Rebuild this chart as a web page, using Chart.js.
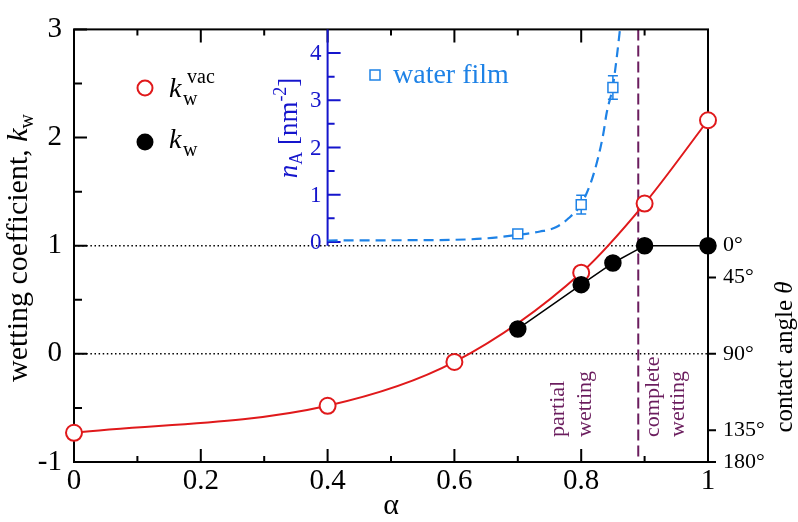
<!DOCTYPE html>
<html>
<head>
<meta charset="utf-8">
<script src="https://cdn.jsdelivr.net/npm/chart.js@4.4.0/dist/chart.umd.min.js"></script>
<style>
  html, body { margin: 0; padding: 0; background: #fff; }
</style>
</head>
<body>
<canvas id="wetChart" width="798" height="522"></canvas>
<script>
// wetting coefficient in vacuum, k_w^vac
const alphaVac = [0, 0.4, 0.6, 0.8, 0.9, 1.0];
const kVac = [-0.73, -0.48, -0.075, 0.75, 1.39, 2.16];

// wetting coefficient k_w
const alphaKw = [0.7, 0.8, 0.85, 0.9, 1.0];
const kW = [0.23, 0.64, 0.84, 1.0, 1.0];

// inset: water film density n_A [nm^-2]
const alphaFilm = [0.7, 0.8, 0.85];
const nFilm = [0.17, 0.79, 3.27];
const nFilmErr = [0, 0.2, 0.25];

// dashed guide curve of the inset
const alphaGuide = [0.4, 0.5, 0.6, 0.65, 0.7, 0.735, 0.76, 0.78, 0.8, 0.815, 0.827, 0.835, 0.84, 0.85, 0.856, 0.862];
const nGuide = [0.03, 0.035, 0.045, 0.075, 0.15, 0.22, 0.31, 0.5, 0.8, 1.25, 1.8, 2.3, 2.72, 3.3, 3.9, 4.6];

const xTicks = [0, 0.2, 0.4, 0.6, 0.8, 1];
const yTicks = [-1, 0, 1, 2, 3];
const angleTicks = [0, 45, 90, 135, 180];
const nTicks = [0, 1, 2, 3, 4];
const wettingBoundary = 0.89;

const SERIF = '"Liberation Serif", "Times New Roman", serif';
const RED = '#e0191b';
const PURPLE = '#6b1d5e';
const FILM = '#1e82e6';
const INSET = '#1515cc';

// inset occupies k = 1..3 of the main axis, alpha = 0.4..1
const insetMin = -0.08, insetMax = 4.5, insetLeft = 0.4, insetBottomK = 1;
const ynMin = insetMax - (insetMax - insetMin) * (3 - (-1)) / (3 - insetBottomK);

const pts = (xs, ys) => xs.map((x, i) => ({ x: x, y: ys[i] }));

function runFont(r) {
  return (r.italic ? 'italic ' : '') + r.size + 'px ' + SERIF;
}

// draw text runs rotated by -90deg, centred on yCenter, baseline at x
function rotatedRuns(ctx, runs, x, yCenter, color) {
  let total = 0;
  runs.forEach(r => { ctx.font = runFont(r); r.w = ctx.measureText(r.text).width; total += r.w; });
  ctx.save();
  ctx.translate(x, yCenter);
  ctx.rotate(-Math.PI / 2);
  ctx.fillStyle = color;
  ctx.textBaseline = 'alphabetic';
  ctx.textAlign = 'left';
  let cx = -total / 2;
  runs.forEach(r => { ctx.font = runFont(r); ctx.fillText(r.text, cx, r.shift || 0); cx += r.w; });
  ctx.restore();
}

function rotatedText(ctx, text, x, y, size, color) {
  ctx.save();
  ctx.translate(x, y);
  ctx.rotate(-Math.PI / 2);
  ctx.fillStyle = color;
  ctx.font = size + 'px ' + SERIF;
  ctx.textBaseline = 'alphabetic';
  ctx.textAlign = 'left';
  ctx.fillText(text, 0, 0);
  ctx.restore();
}

const decor = {
  id: 'decor',
  beforeDatasetsDraw(chart) {
    const ctx = chart.ctx, a = chart.chartArea;
    const xs = chart.scales.x, ys = chart.scales.y, yn = chart.scales.yn;
    ctx.save();

    // dotted reference lines at k = 0 and k = 1
    ctx.strokeStyle = '#000';
    ctx.lineWidth = 1.5;
    ctx.setLineDash([1.5, 2.6]);
    ctx.beginPath();
    ctx.moveTo(a.left, ys.getPixelForValue(0));
    ctx.lineTo(a.right, ys.getPixelForValue(0));
    ctx.moveTo(a.left, ys.getPixelForValue(1));
    ctx.lineTo(xs.getPixelForValue(0.9), ys.getPixelForValue(1));
    ctx.stroke();

    // partial / complete wetting boundary
    const bx = xs.getPixelForValue(wettingBoundary);
    ctx.strokeStyle = PURPLE;
    ctx.lineWidth = 2;
    ctx.setLineDash([11, 5]);
    ctx.beginPath();
    ctx.moveTo(bx, a.top);
    ctx.lineTo(bx, a.bottom);
    ctx.stroke();
    ctx.setLineDash([]);

    // frame
    ctx.strokeStyle = '#000';
    ctx.lineWidth = 2;
    ctx.strokeRect(a.left, a.top, a.right - a.left, a.bottom - a.top);

    // x ticks (bottom and top, inward)
    ctx.beginPath();
    for (let i = 0; i <= 10; i++) {
      const p = xs.getPixelForValue(i / 10);
      const len = i % 2 === 0 ? 13 : 6;
      ctx.moveTo(p, a.bottom); ctx.lineTo(p, a.bottom - len);
      ctx.moveTo(p, a.top); ctx.lineTo(p, a.top + len);
    }
    // y ticks (left, inward)
    for (let i = 0; i <= 8; i++) {
      const v = -1 + i / 2;
      const p = ys.getPixelForValue(v);
      const len = i % 2 === 0 ? 13 : 8;
      ctx.moveTo(a.left, p); ctx.lineTo(a.left + len, p);
    }
    // contact angle ticks (right, outward)
    angleTicks.forEach(d => {
      const p = ys.getPixelForValue(Math.cos(d * Math.PI / 180));
      ctx.moveTo(a.right, p); ctx.lineTo(a.right + 8, p);
    });
    ctx.stroke();

    // inset axis
    const ix = xs.getPixelForValue(insetLeft);
    ctx.strokeStyle = INSET;
    ctx.lineWidth = 2;
    ctx.beginPath();
    ctx.moveTo(ix, yn.getPixelForValue(insetMin));
    ctx.lineTo(ix, a.top);
    for (let i = 0; i <= 8; i++) {
      const p = yn.getPixelForValue(i / 2);
      const len = i % 2 === 0 ? 13 : 7;
      ctx.moveTo(ix, p); ctx.lineTo(ix + len, p);
    }
    ctx.stroke();
    ctx.fillStyle = INSET;
    ctx.font = '23px ' + SERIF;
    ctx.textAlign = 'right';
    ctx.textBaseline = 'middle';
    nTicks.forEach(v => ctx.fillText(String(v), ix - 6, yn.getPixelForValue(v) + 1));

    // error bars of the film data
    ctx.strokeStyle = FILM;
    ctx.lineWidth = 1.5;
    ctx.beginPath();
    alphaFilm.forEach((al, i) => {
      if (!nFilmErr[i]) return;
      const x = xs.getPixelForValue(al);
      const y1 = yn.getPixelForValue(nFilm[i] - nFilmErr[i]);
      const y2 = yn.getPixelForValue(nFilm[i] + nFilmErr[i]);
      ctx.moveTo(x, y1); ctx.lineTo(x, y2);
      ctx.moveTo(x - 5, y1); ctx.lineTo(x + 5, y1);
      ctx.moveTo(x - 5, y2); ctx.lineTo(x + 5, y2);
    });
    ctx.stroke();
    ctx.restore();
  },
  afterDraw(chart) {
    const ctx = chart.ctx, a = chart.chartArea;
    const xs = chart.scales.x;
    ctx.save();

    // axis titles
    rotatedRuns(ctx, [
      { text: 'wetting coefficient, ', size: 30 },
      { text: 'k', size: 30, italic: true },
      { text: 'w', size: 20, shift: 6 }
    ], 27, 248, '#000');
    rotatedRuns(ctx, [
      { text: 'contact angle ', size: 25 },
      { text: '\u03B8', size: 25, italic: true }
    ], 792, 357, '#000');
    rotatedRuns(ctx, [
      { text: 'n', size: 27, italic: true },
      { text: 'A', size: 18, shift: 5 },
      { text: ' [nm', size: 27 },
      { text: '-2', size: 18, shift: -11 },
      { text: ']', size: 27 }
    ], 297, 128, INSET);

    ctx.fillStyle = '#000';
    ctx.font = '30px ' + SERIF;
    ctx.textAlign = 'center';
    ctx.textBaseline = 'alphabetic';
    ctx.fillText('\u03B1', (a.left + a.right) / 2, 514);

    // legend of the main plot
    ctx.lineWidth = 2;
    ctx.strokeStyle = RED;
    ctx.fillStyle = '#fff';
    ctx.beginPath(); ctx.arc(145, 88, 7.5, 0, Math.PI * 2); ctx.fill(); ctx.stroke();
    ctx.fillStyle = '#000';
    ctx.beginPath(); ctx.arc(145, 142, 8.5, 0, Math.PI * 2); ctx.fill();
    ctx.textAlign = 'left';
    ctx.font = 'italic 28px ' + SERIF;
    ctx.fillText('k', 169, 97);
    ctx.fillText('k', 169, 148);
    ctx.font = '20px ' + SERIF;
    ctx.fillText('w', 183, 105);
    ctx.fillText('vac', 187, 83);
    ctx.fillText('w', 183, 156);

    // legend of the inset
    ctx.strokeStyle = FILM;
    ctx.lineWidth = 1.5;
    ctx.strokeRect(370, 70, 10, 10);
    ctx.fillStyle = FILM;
    ctx.font = '28px ' + SERIF;
    ctx.fillText('water film', 393, 83);

    // regime labels
    const bx = xs.getPixelForValue(wettingBoundary);
    const by = a.bottom - 25;
    rotatedText(ctx, 'partial', bx - 74, by, 22, PURPLE);
    rotatedText(ctx, 'wetting', bx - 47, by, 22, PURPLE);
    rotatedText(ctx, 'complete', bx + 21, by, 22, PURPLE);
    rotatedText(ctx, 'wetting', bx + 46, by, 22, PURPLE);
    ctx.restore();
  }
};

const tickFont = { family: SERIF, size: 29 };

new Chart(document.getElementById('wetChart'), {
  type: 'line',
  data: {
    datasets: [
      {
        label: 'k_w',
        data: pts(alphaKw, kW),
        borderColor: '#000',
        borderWidth: 1.5,
        tension: 0,
        pointRadius: 8,
        pointBackgroundColor: '#000',
        pointBorderColor: '#000',
        clip: false,
        order: 0
      },
      {
        label: 'k_w^vac',
        data: pts(alphaVac, kVac),
        borderColor: RED,
        borderWidth: 2,
        cubicInterpolationMode: 'monotone',
        pointRadius: 8,
        pointBorderWidth: 2,
        pointBackgroundColor: '#fff',
        pointBorderColor: RED,
        clip: false,
        order: 1
      },
      {
        label: 'water film',
        data: pts(alphaFilm, nFilm),
        yAxisID: 'yn',
        showLine: false,
        pointStyle: 'rect',
        pointRadius: 7,
        pointBorderWidth: 1.5,
        pointBackgroundColor: '#fff',
        pointBorderColor: FILM,
        clip: false,
        order: 2
      },
      {
        label: 'guide',
        data: pts(alphaGuide, nGuide),
        yAxisID: 'yn',
        borderColor: FILM,
        borderWidth: 2.2,
        borderDash: [10, 6],
        cubicInterpolationMode: 'monotone',
        pointRadius: 0,
        order: 3
      }
    ]
  },
  options: {
    responsive: false,
    devicePixelRatio: 1,
    animation: false,
    events: [],
    layout: { padding: { top: 18, left: 0, right: 0, bottom: 0 } },
    plugins: { legend: { display: false }, tooltip: { enabled: false } },
    scales: {
      x: {
        type: 'linear', min: 0, max: 1,
        grid: { display: false, drawTicks: false },
        border: { display: false },
        afterBuildTicks: s => { s.ticks = xTicks.map(v => ({ value: v })); },
        afterFit: s => { s.height = 60; },
        ticks: { font: tickFont, color: '#000', padding: 2, autoSkip: false, maxRotation: 0,
          callback: v => String(v) }
      },
      y: {
        type: 'linear', position: 'left', min: -1, max: 3,
        grid: { display: false, drawTicks: false },
        border: { display: false },
        afterBuildTicks: s => { s.ticks = yTicks.map(v => ({ value: v })); },
        afterFit: s => { s.width = 74; },
        ticks: { font: tickFont, color: '#000', padding: 12, autoSkip: false,
          callback: v => String(v) }
      },
      yAngle: {
        type: 'linear', position: 'right', min: -1, max: 3,
        grid: { display: false, drawTicks: false },
        border: { display: false },
        afterBuildTicks: s => { s.ticks = angleTicks.map(d => ({ value: Math.cos(d * Math.PI / 180) })); },
        afterFit: s => { s.width = 90; },
        ticks: { font: { family: SERIF, size: 22 }, color: '#000', padding: 15, autoSkip: false,
          callback: (v, i) => angleTicks[i] + '\u00B0' }
      },
      yn: {
        type: 'linear', position: 'left', display: false,
        min: ynMin, max: insetMax
      }
    }
  },
  plugins: [decor]
});
</script>
</body>
</html>
